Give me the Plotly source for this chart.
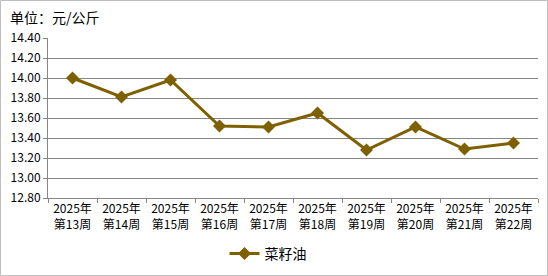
import plotly.graph_objects as go

weeks = ["2025年<br>第13周", "2025年<br>第14周", "2025年<br>第15周", "2025年<br>第16周",
         "2025年<br>第17周", "2025年<br>第18周", "2025年<br>第19周", "2025年<br>第20周",
         "2025年<br>第21周", "2025年<br>第22周"]
prices = [14.00, 13.81, 13.98, 13.52, 13.51, 13.65, 13.28, 13.51, 13.29, 13.35]
series_name = "菜籽油"
unit_label = "单位：元/公斤"

W, H = 548, 276
ml, mr, mt, mb = 48, 10, 38, 78
pw, ph = W - ml - mr, H - mt - mb

def px_x(p):
    return (p - ml) / pw

def px_y(p):
    return (H - mb - p) / ph

color = "rgb(127,96,0)"
font = "Noto Sans CJK SC, Noto Sans, sans-serif"

fig = go.Figure()
fig.add_trace(go.Scatter(
    x=weeks, y=prices, name=series_name, mode="lines+markers",
    line=dict(color=color, width=3),
    marker=dict(symbol="diamond", size=10, color=color),
))

fig.update_layout(
    width=W, height=H,
    margin=dict(l=ml, r=mr, t=mt, b=mb, autoexpand=False),
    paper_bgcolor="white", plot_bgcolor="white",
    font=dict(family=font, size=12, color="black"),
    showlegend=True,
    legend=dict(orientation="h", x=px_x(268), xanchor="center",
                y=px_y(254), yanchor="middle", font=dict(size=14),
                bgcolor="rgba(0,0,0,0)"),
    xaxis=dict(type="category", range=[-0.5, len(weeks) - 0.5],
               showline=True, linecolor="#868686", linewidth=1,
               ticks="outside", ticklen=4, tickcolor="#868686", tickson="boundaries",
               tickangle=0, showgrid=False, tickfont=dict(size=12), fixedrange=True,
               automargin=False),
    yaxis=dict(range=[12.8, 14.4], dtick=0.2, tick0=12.8, tickformat=".2f",
               showline=True, linecolor="#868686", linewidth=1,
               ticks="outside", ticklen=4, tickcolor="#868686",
               showgrid=True, gridcolor="#868686", gridwidth=1,
               zeroline=False, tickfont=dict(size=12), fixedrange=True,
               automargin=False),
    annotations=[dict(text=unit_label, xref="paper", yref="paper",
                      x=px_x(8), y=px_y(17), xanchor="left", yanchor="middle",
                      showarrow=False, font=dict(size=14, color="black"))],
    shapes=[dict(type="rect", xref="paper", yref="paper",
                 x0=px_x(0.5), x1=px_x(547.5), y0=px_y(275.5), y1=px_y(0.5),
                 line=dict(color="#BFBFBF", width=1), layer="below")],
)

fig.write_html("out.html")
